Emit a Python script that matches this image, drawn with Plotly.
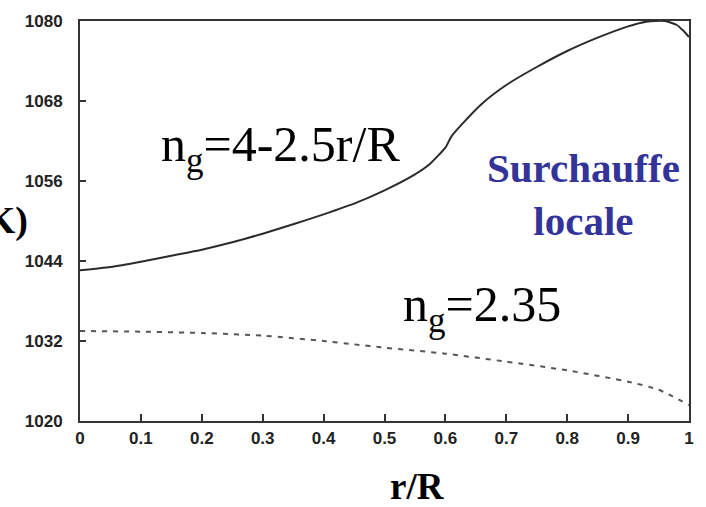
import plotly.graph_objects as go

# Solid curve: n_g = 4 - 2.5 r/R
r_solid = [0.0, 0.05, 0.1, 0.15, 0.2, 0.25, 0.3, 0.35, 0.4, 0.45, 0.5, 0.55, 0.575,
           0.59, 0.6, 0.61, 0.625, 0.66, 0.7, 0.75, 0.8, 0.85, 0.9, 0.93, 0.96, 0.98, 0.99, 1.0]
T_solid = [1042.6, 1043.1, 1043.9, 1044.8, 1045.7, 1046.8, 1048.1, 1049.5, 1051.0, 1052.6,
           1054.6, 1057.0, 1058.6, 1060.0, 1061.0, 1062.7, 1064.3, 1067.6, 1070.4, 1073.1,
           1075.5, 1077.5, 1079.2, 1079.9, 1080.0, 1079.4, 1078.6, 1077.6]

# Dashed curve: n_g = 2.35
r_dash = [0.0, 0.1, 0.2, 0.3, 0.4, 0.45, 0.5, 0.6, 0.7, 0.8, 0.9, 0.95, 1.0]
T_dash = [1033.5, 1033.4, 1033.2, 1032.8, 1032.0, 1031.5, 1031.0, 1030.1, 1028.9,
          1027.6, 1025.9, 1024.7, 1022.4]

x_ticks = [0, 0.1, 0.2, 0.3, 0.4, 0.5, 0.6, 0.7, 0.8, 0.9, 1]
x_tick_labels = ["0", "0.1", "0.2", "0.3", "0.4", "0.5", "0.6", "0.7", "0.8", "0.9", "1"]
y_ticks = [1020, 1032, 1044, 1056, 1068, 1080]

fig = go.Figure()
fig.add_trace(go.Scatter(x=r_solid, y=T_solid, mode="lines",
                         line=dict(color="#2b2b2b", width=2, shape="spline", smoothing=0.6),
                         showlegend=False, hoverinfo="skip"))
fig.add_trace(go.Scatter(x=r_dash, y=T_dash, mode="lines",
                         line=dict(color="#555555", width=2, dash="5px,6px", shape="spline", smoothing=0.6),
                         showlegend=False, hoverinfo="skip"))

tick_font = dict(family="Liberation Sans, Arial, sans-serif", size=17, color="#222222", weight="bold")

fig.update_xaxes(range=[0, 1], tickvals=x_ticks, ticktext=x_tick_labels,
                 ticks="inside", ticklen=7, tickwidth=1.5, tickcolor="#333333",
                 showline=True, linecolor="#333333", linewidth=2, mirror=True,
                 showgrid=False, zeroline=False, tickfont=tick_font, ticklabelstandoff=1)
fig.update_yaxes(range=[1020, 1080], tickvals=y_ticks,
                 ticks="inside", ticklen=6, tickwidth=1.5, tickcolor="#333333",
                 showline=True, linecolor="#333333", linewidth=2, mirror=True,
                 showgrid=False, zeroline=False, tickfont=tick_font, ticklabelstandoff=12)

serif = "Liberation Serif, Times New Roman, serif"
fig.add_annotation(x=0.13, y=1061.0, xref="x", yref="y", xanchor="left", yanchor="middle",
                   text="n<sub>g</sub>=4-2.5r/R", showarrow=False,
                   font=dict(family=serif, size=50, color="#000000"))
fig.add_annotation(x=0.527, y=1037.0, xref="x", yref="y", xanchor="left", yanchor="middle",
                   text="n<sub>g</sub>=2.35", showarrow=False,
                   font=dict(family=serif, size=50, color="#000000"))
fig.add_annotation(x=0.826, y=1054.0, xref="x", yref="y", xanchor="center", yanchor="middle",
                   text="<b>Surchauffe<br>locale</b>", showarrow=False,
                   font=dict(family=serif, size=41, color="#33339a"))
fig.add_annotation(x=0.554, y=-0.163, xref="paper", yref="paper", xanchor="center", yanchor="middle",
                   text="<b>r/R</b>", showarrow=False,
                   font=dict(family=serif, size=37, color="#000000"))
fig.add_annotation(x=-0.082, y=0.502, xref="paper", yref="paper", xanchor="right", yanchor="middle",
                   text="<b>T (K)</b>", showarrow=False,
                   font=dict(family=serif, size=38, color="#000000"))

fig.update_layout(width=706, height=507, margin=dict(l=80, r=16, t=15, b=86),
                  paper_bgcolor="white", plot_bgcolor="white")

fig.write_html("out.html")
